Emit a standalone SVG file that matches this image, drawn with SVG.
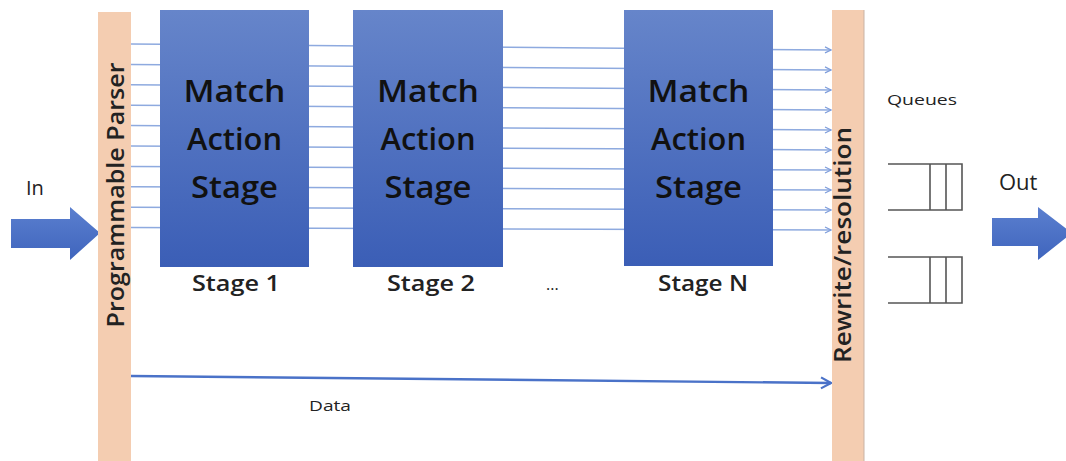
<svg xmlns="http://www.w3.org/2000/svg" width="1066" height="461" viewBox="0 0 1066 461">
<style>
.bar{fill:#f4cdb1}
.stage{fill:url(#g)}
.big{font-family:"Open Sans","Liberation Sans",sans-serif;font-size:30px;font-weight:600;fill:#111;text-anchor:middle}
.lbl{font-family:"Open Sans","Liberation Sans",sans-serif;font-size:21px;font-weight:600;fill:#222;text-anchor:middle}
.vt{font-family:"Open Sans","Liberation Sans",sans-serif;font-size:23px;font-weight:600;fill:#222;text-anchor:middle}
.sm{font-family:"Open Sans","Liberation Sans",sans-serif;fill:#222;font-weight:500}
.wire{stroke:#8eaadf;stroke-width:1.5;fill:none}
.q{stroke:#555;stroke-width:1.6;fill:none}
.fat{fill:url(#ga)}
</style>
<defs>
<linearGradient id="g" x1="0" y1="0" x2="0" y2="1">
<stop offset="0" stop-color="#6685ca"/>
<stop offset="1" stop-color="#3b5eb6"/>
</linearGradient>
<linearGradient id="ga" x1="0" y1="0" x2="0" y2="1">
<stop offset="0" stop-color="#5b7fcf"/>
<stop offset="1" stop-color="#3f65bd"/>
</linearGradient>
<marker id="ah" markerWidth="8" markerHeight="8" refX="7" refY="4" orient="auto" markerUnits="userSpaceOnUse">
<path d="M1,1 L7,4 L1,7" fill="none" stroke="#7f9edc" stroke-width="1.3"/>
</marker>
<marker id="ahd" markerWidth="14" markerHeight="14" refX="12" refY="7" orient="auto" markerUnits="userSpaceOnUse">
<path d="M2,1.5 L12,7 L2,12.5" fill="none" stroke="#4a72c8" stroke-width="2.2"/>
</marker>
</defs>
<rect width="1066" height="461" fill="#fff"/>

<g id="connectors">
<line class="wire" x1="131" y1="44" x2="831" y2="50" marker-end="url(#ah)"/>
<line class="wire" x1="131" y1="64.4" x2="831" y2="70" marker-end="url(#ah)"/>
<line class="wire" x1="131" y1="84.8" x2="831" y2="90" marker-end="url(#ah)"/>
<line class="wire" x1="131" y1="105.2" x2="831" y2="110" marker-end="url(#ah)"/>
<line class="wire" x1="131" y1="125.6" x2="831" y2="130" marker-end="url(#ah)"/>
<line class="wire" x1="131" y1="146" x2="831" y2="150" marker-end="url(#ah)"/>
<line class="wire" x1="131" y1="166.4" x2="831" y2="170" marker-end="url(#ah)"/>
<line class="wire" x1="131" y1="186.8" x2="831" y2="190" marker-end="url(#ah)"/>
<line class="wire" x1="131" y1="207.2" x2="831" y2="210" marker-end="url(#ah)"/>
<line class="wire" x1="131" y1="227.6" x2="831" y2="230" marker-end="url(#ah)"/>
<line x1="131" y1="376" x2="831" y2="383" stroke="#4a72c8" stroke-width="2.4" marker-end="url(#ahd)"/>
<text class="sm" x="309" y="411" font-size="15" textLength="42" lengthAdjust="spacingAndGlyphs">Data</text>
</g>

<g id="in">
<polygon class="fat" points="11,219 70,219 70,207 100,233 70,260 70,248 11,248"/>
<text class="sm" x="26" y="195" font-size="20">In</text>
</g>

<g id="parser">
<rect class="bar" x="98" y="12" width="33" height="449"/>
<text class="vt" transform="translate(124,195) rotate(-90)" textLength="265" lengthAdjust="spacingAndGlyphs">Programmable Parser</text>
</g>

<g id="stage1">
<rect class="stage" x="160" y="10" width="149" height="257"/>
<text class="big" x="234.5" y="102" textLength="102" lengthAdjust="spacingAndGlyphs">Match</text>
<text class="big" x="234.5" y="150" textLength="95" lengthAdjust="spacingAndGlyphs">Action</text>
<text class="big" x="234.5" y="198" textLength="87" lengthAdjust="spacingAndGlyphs">Stage</text>
<text class="lbl" x="236" y="291" textLength="88" lengthAdjust="spacingAndGlyphs">Stage 1</text>
</g>

<g id="stage2">
<rect class="stage" x="353" y="10" width="150" height="257"/>
<text class="big" x="428" y="102" textLength="102" lengthAdjust="spacingAndGlyphs">Match</text>
<text class="big" x="428" y="150" textLength="95" lengthAdjust="spacingAndGlyphs">Action</text>
<text class="big" x="428" y="198" textLength="87" lengthAdjust="spacingAndGlyphs">Stage</text>
<text class="lbl" x="431" y="291" textLength="88" lengthAdjust="spacingAndGlyphs">Stage 2</text>
</g>

<g id="ellipsis">
<text class="sm" x="546" y="290" font-size="16">...</text>
</g>

<g id="stageN">
<rect class="stage" x="624" y="10" width="149" height="256"/>
<text class="big" x="698.5" y="102" textLength="102" lengthAdjust="spacingAndGlyphs">Match</text>
<text class="big" x="698.5" y="150" textLength="95" lengthAdjust="spacingAndGlyphs">Action</text>
<text class="big" x="698.5" y="198" textLength="87" lengthAdjust="spacingAndGlyphs">Stage</text>
<text class="lbl" x="703" y="291" textLength="90" lengthAdjust="spacingAndGlyphs">Stage N</text>
</g>

<g id="rewrite">
<rect class="bar" x="832" y="10" width="32" height="451"/>
<line x1="864" y1="10" x2="864" y2="461" stroke="#c9b3a5" stroke-width="1"/>
<text class="vt" transform="translate(851,245) rotate(-90)" textLength="236" lengthAdjust="spacingAndGlyphs">Rewrite/resolution</text>
</g>

<g id="queues">
<text class="sm" x="887" y="105" font-size="15" textLength="70" lengthAdjust="spacingAndGlyphs">Queues</text>
<path class="q" d="M888,164 H962 V210 H888 M930,164 V210 M946,164 V210"/>
<path class="q" d="M888,257 H962 V303 H888 M930,257 V303 M946,257 V303"/>
</g>

<g id="out">
<text class="sm" x="999" y="190" font-size="22">Out</text>
<polygon class="fat" points="992,218 1038,218 1038,207 1072,233 1038,260 1038,246 992,246"/>
</g>
</svg>
